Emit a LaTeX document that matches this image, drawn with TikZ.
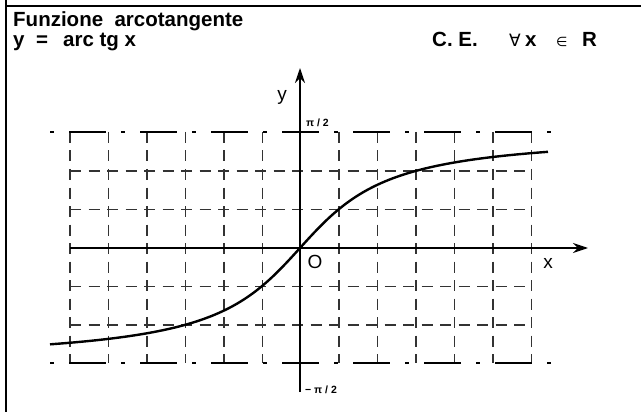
\documentclass[tikz,border=0pt]{standalone}
\usepackage{fontspec}
\setmainfont{Liberation Sans}
\newfontfamily\symfont{DejaVu Sans}
\usetikzlibrary{arrows.meta}
\begin{document}
\begin{tikzpicture}[x=1pt,y=-1pt,
 txt/.style={inner sep=0pt,anchor=base west,font=\bfseries\fontsize{20.5}{20.5}\selectfont},
 lbl/.style={inner sep=0pt,anchor=base,font=\fontsize{19}{19}\selectfont},
 small/.style={inner sep=0pt,anchor=base west,font=\bfseries\fontsize{10.5}{10.5}\selectfont},
 gridline/.style={dash pattern=on 11pt off 7.5pt, line width=1.1pt, draw=black!80},
 asym/.style={line width=2pt, dash pattern=on 4pt off 15pt on 37pt off 15pt},
 axis/.style={line width=1.3pt,-{Stealth[length=15pt,width=10pt]}},
 frame/.style={line width=1.3pt},
 curve/.style={line width=2.4pt,line join=round}
]
\useasboundingbox (0,0) rectangle (641,412);
\fill[white] (0,0) rectangle (641,412);
% frame
\draw[frame] (6,0) -- (6,412);
\draw[frame] (6,6) -- (641,6);
% texts
\node[txt] (title) at (13,27) {Funzione\ \ arcotangente};
\node[txt] (eqy) at (13,47) {y};
\node[txt] (eqeq) at (36,47) {=};
\node[txt] (eq) at (63,47) {arc tg x};
\node[txt] (ce) at (432,47) {C. E.};
\node[txt,font=\symfont\fontsize{17}{17}\selectfont] (forall) at (509,47) {∀};
\node[txt] (xx) at (525,47) {x};
\node[txt,font=\symfont\fontsize{13}{13}\selectfont] (in) at (556,47) {∈};
\node[txt] (RR) at (582,47) {R};
% grid
\foreach \x in {70,108.5,147,185.5,224,262.5,339,377.5,416,454.5,493,531.5}
  \draw[gridline] (\x,132) -- (\x,363);
\foreach \y in {171,209.5,286.5,325}
  \draw[gridline] (70,\y) -- (531.5,\y);
% asymptotes
\draw[asym] (50,132) -- (551,132);
\draw[asym] (50,363) -- (551,363);
% axes
\coordinate (xs) at (70,248);
\coordinate (xe) at (588,248);
\coordinate (ys) at (300,392);
\coordinate (ye) at (300,68);
\draw[axis] (xs) -- (xe);
\draw[axis] (ys) -- (ye);
% curve
\draw[curve] plot[domain=50:548,samples=120,smooth] (\x,{248-115.5*atan((\x-300)/66.68)/90});
% labels
\node[lbl] (ylab) at (282,101) {y};
\node[lbl] (olab) at (315,269) {O};
\node[lbl] (xlab) at (548,269) {x};
\node[small] (pi2) at (306,127) {π / 2};
\node[small] (mpi2) at (305,393) {− π / 2};
\end{tikzpicture}
\end{document}
